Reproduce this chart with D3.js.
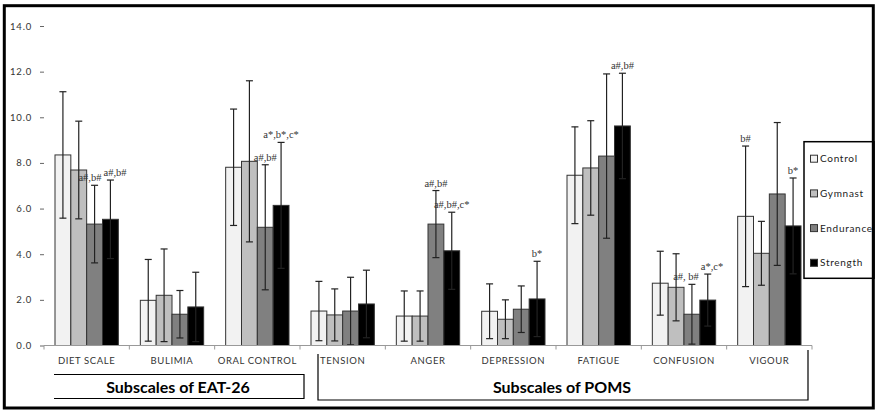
<!DOCTYPE html>
<html>
<head>
<meta charset="utf-8">
<script src="https://cdn.jsdelivr.net/npm/d3@7/dist/d3.min.js"></script>
<style>
  body { margin: 0; background: #fff; }
  svg { display: block; }
</style>
</head>
<body>
<svg id="chart" width="883" height="410"></svg>
<script>
'use strict';

// categories along the x axis
var categories = ['DIET SCALE', 'BULIMIA', 'ORAL CONTROL', 'TENSION', 'ANGER',
                  'DEPRESSION', 'FATIGUE', 'CONFUSION', 'VIGOUR'];
var groups = ['Control', 'Gymnast', 'Endurance', 'Strength'];

// means
var control   = [8.35, 1.98, 7.81, 1.51, 1.29, 1.50, 7.46, 2.73, 5.66];
var gymnast   = [7.69, 2.20, 8.07, 1.34, 1.29, 1.15, 7.78, 2.55, 4.04];
var endurance = [5.32, 1.37, 5.18, 1.51, 5.32, 1.59, 8.30, 1.37, 6.64];
var strength  = [5.53, 1.69, 6.14, 1.82, 4.15, 2.04, 9.62, 1.99, 5.24];

// standard deviations (error bars)
var controlSD   = [2.77, 1.79, 2.55, 1.30, 1.10, 1.20, 2.12, 1.40, 3.08];
var gymnastSD   = [2.14, 2.03, 3.53, 1.14, 1.10, 0.85, 2.07, 1.47, 1.40];
var enduranceSD = [1.70, 1.04, 2.74, 1.48, 1.47, 1.02, 3.60, 1.31, 3.13];
var strengthSD  = [1.72, 1.52, 2.76, 1.48, 1.69, 1.65, 2.31, 1.14, 2.10];

var yTicks = [0, 2, 4, 6, 8, 10, 12, 14];

// significance marks above bars
var marks = [
  {cat: 'DIET SCALE', group: 'Endurance', text: 'a#,b#'},
  {cat: 'DIET SCALE', group: 'Strength', text: 'a#,b#'},
  {cat: 'ORAL CONTROL', group: 'Endurance', text: 'a#,b#'},
  {cat: 'ORAL CONTROL', group: 'Strength', text: 'a*,b*,c*'},
  {cat: 'ANGER', group: 'Endurance', text: 'a#,b#'},
  {cat: 'ANGER', group: 'Strength', text: 'a#,b#,c*'},
  {cat: 'DEPRESSION', group: 'Strength', text: 'b*'},
  {cat: 'FATIGUE', group: 'Strength', text: 'a#,b#'},
  {cat: 'CONFUSION', group: 'Endurance', text: 'a#, b#'},
  {cat: 'CONFUSION', group: 'Strength', text: 'a*,c*'},
  {cat: 'VIGOUR', group: 'Control', text: 'b#'},
  {cat: 'VIGOUR', group: 'Strength', text: 'b*'}
];

var means = [control, gymnast, endurance, strength];
var sds = [controlSD, gymnastSD, enduranceSD, strengthSD];
var fills = ['#f2f2f2', '#bfbfbf', '#808080', '#000000'];

var svg = d3.select('#chart');

var x = d3.scaleBand().domain(categories).range([44, 812]);
var xg = d3.scaleBand().domain(groups).range([11, x.bandwidth() - 11]);
var y = d3.scaleLinear().domain([0, 14]).range([345.5, 26]);
var color = d3.scaleOrdinal().domain(groups).range(fills);

// flat list of bars
var bars = [];
categories.forEach(function(c, i){
  groups.forEach(function(g, j){
    bars.push({cat: c, group: g, mean: means[j][i], sd: sds[j][i]});
  });
});

function barMid(d){ return x(d.cat) + xg(d.group) + xg.bandwidth() / 2; }

// y axis: labels + small dashes, no line
var yAxis = svg.append('g').attr('transform', 'translate(44,0)')
  .call(d3.axisLeft(y).tickValues(yTicks).tickFormat(d3.format('.1f'))
    .tickSize(4).tickPadding(8));
yAxis.select('.domain').remove();
yAxis.selectAll('line').attr('stroke', '#666');
yAxis.selectAll('text')
  .attr('font-family', 'Lato, sans-serif').attr('font-size', 9.5)
  .attr('letter-spacing', 0.8).attr('fill', '#333');

// bars
svg.append('g').selectAll('rect').data(bars).join('rect')
  .attr('x', function(d){ return x(d.cat) + xg(d.group); })
  .attr('y', function(d){ return y(d.mean); })
  .attr('width', xg.bandwidth())
  .attr('height', function(d){ return y(0) - y(d.mean); })
  .attr('fill', function(d){ return color(d.group); })
  .attr('stroke', '#333').attr('stroke-width', 1);

// error bars
var eb = svg.append('g').attr('stroke', '#222').attr('stroke-width', 1.2)
  .selectAll('g').data(bars).join('g')
  .attr('transform', function(d){ return 'translate(' + barMid(d) + ',0)'; });
eb.append('line')
  .attr('y1', function(d){ return y(d.mean + d.sd); })
  .attr('y2', function(d){ return y(Math.max(0, d.mean - d.sd)); });
eb.append('line').attr('x1', -3.5).attr('x2', 3.5)
  .attr('y1', function(d){ return y(d.mean + d.sd); })
  .attr('y2', function(d){ return y(d.mean + d.sd); });
eb.append('line').attr('x1', -3.5).attr('x2', 3.5)
  .attr('y1', function(d){ return y(Math.max(0, d.mean - d.sd)); })
  .attr('y2', function(d){ return y(Math.max(0, d.mean - d.sd)); });

// x axis baseline with category ticks
var xAxis = svg.append('g').attr('transform', 'translate(0,' + y(0) + ')');
xAxis.append('line').attr('x1', 44).attr('x2', 812)
  .attr('stroke', '#999').attr('stroke-width', 1);
xAxis.selectAll('.sep').data(categories.concat(['end'])).join('line')
  .attr('x1', function(d, i){ return 44 + i * x.bandwidth(); })
  .attr('x2', function(d, i){ return 44 + i * x.bandwidth(); })
  .attr('y1', 0).attr('y2', 4).attr('stroke', '#999');
xAxis.selectAll('text').data(categories).join('text')
  .attr('x', function(d){ return x(d) + x.bandwidth() / 2; })
  .attr('y', 18)
  .attr('text-anchor', 'middle')
  .attr('font-family', 'Lato, sans-serif').attr('font-size', 9.5)
  .attr('letter-spacing', 0.6).attr('fill', '#333')
  .text(function(d){ return d; });

// significance marks; two marks close in height are pushed apart sideways
var lookup = {};
bars.forEach(function(b){ lookup[b.cat + '|' + b.group] = b; });
marks.forEach(function(m){
  var b = lookup[m.cat + '|' + m.group];
  m.cx = barMid(b);
  m.top = y(b.mean + b.sd);
  m.anchor = 'middle';
});
marks.forEach(function(m){
  marks.forEach(function(o){
    if (o === m || o.cat !== m.cat || Math.abs(o.top - m.top) >= 12) return;
    var mid = (m.cx + o.cx) / 2;
    if (m.cx < o.cx) { m.anchor = 'end'; m.tx = mid - 1; }
    else { m.anchor = 'start'; m.tx = mid + 1; }
  });
});
svg.append('g').selectAll('text').data(marks).join('text')
  .attr('x', function(d){ return d.tx !== undefined ? d.tx : d.cx; })
  .attr('y', function(d){ return d.top - 4; })
  .attr('text-anchor', function(d){ return d.anchor; })
  .attr('font-family', '"Liberation Serif", serif').attr('font-size', 10.5)
  .attr('fill', '#333')
  .text(function(d){ return d.text; });

// group brackets
var br = svg.append('g').attr('stroke', '#000').attr('stroke-width', 1.2).attr('fill', 'none');
br.append('path').attr('d', 'M54,374.5H304V398.5H54');
br.append('path').attr('d', 'M318,354V400H808V350');
svg.append('text').attr('x', 178).attr('y', 393).attr('text-anchor', 'middle')
  .attr('font-family', 'Lato, sans-serif').attr('font-weight', 'bold').attr('font-size', 16)
  .text('Subscales of EAT-26');
svg.append('text').attr('x', 562).attr('y', 393).attr('text-anchor', 'middle')
  .attr('font-family', 'Lato, sans-serif').attr('font-weight', 'bold').attr('font-size', 16)
  .text('Subscales of POMS');

// legend
var legend = svg.append('g');
legend.append('rect').attr('x', 804).attr('y', 141.7).attr('width', 70).attr('height', 136.6)
  .attr('fill', '#fff').attr('stroke', '#000').attr('stroke-width', 1.5);
var li = legend.selectAll('g.item').data(groups).join('g')
  .attr('transform', function(d, i){ return 'translate(810,' + (158.7 + i * 34.7) + ')'; });
li.append('rect').attr('x', 0.5).attr('y', -3.5).attr('width', 7).attr('height', 7)
  .attr('fill', function(d){ return color(d); }).attr('stroke', '#333');
li.append('text').attr('x', 10).attr('y', 3.5)
  .attr('font-family', 'Lato, sans-serif').attr('font-size', 10)
  .attr('letter-spacing', 0.7).attr('fill', '#222')
  .text(function(d){ return d; });

// outer frame
svg.append('rect').attr('x', 4.3).attr('y', 5.7).attr('width', 869).attr('height', 402.3)
  .attr('fill', 'none').attr('stroke', '#000').attr('stroke-width', 3);
</script>
</body>
</html>
